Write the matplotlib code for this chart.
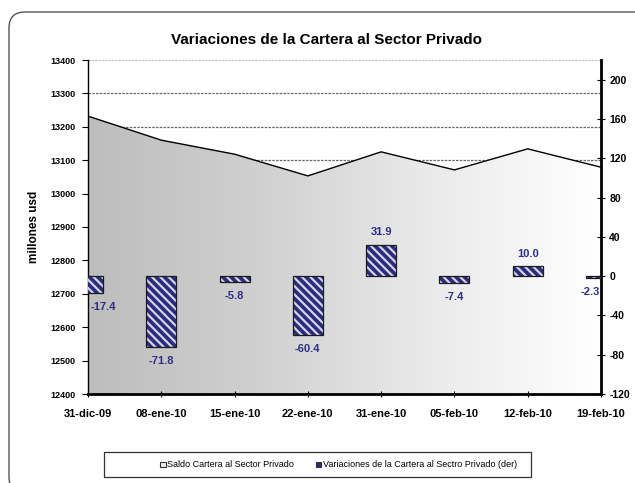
import matplotlib
matplotlib.use("Agg")
import matplotlib.pyplot as plt
import numpy as np
from matplotlib.patches import Polygon, Rectangle, FancyBboxPatch
from matplotlib.colors import LinearSegmentedColormap

# ---- data ----
fechas = ["31-dic-09", "08-ene-10", "15-ene-10", "22-ene-10",
          "31-ene-10", "05-feb-10", "12-feb-10", "19-feb-10"]
saldo = [13232, 13160, 13118, 13053, 13125, 13071, 13134, 13079]
variaciones = [-17.4, -71.8, -5.8, -60.4, 31.9, -7.4, 10.0, -2.3]
left_ticks = [12400, 12500, 12600, 12700, 12800, 12900, 13000, 13100, 13200, 13300, 13400]
right_ticks = [-120, -80, -40, 0, 40, 80, 120, 160, 200]

titulo = "Variaciones de la Cartera al Sector Privado"
ylabel = "millones usd"
leg1 = "Saldo Cartera al Sector Privado"
leg2 = "Variaciones de la Cartera al Sectro Privado (der)"

plt.rcParams['font.family'] = ['Liberation Sans', 'DejaVu Sans']
plt.rcParams['hatch.linewidth'] = 1.6

W, H = 635, 483
fig = plt.figure(figsize=(W / 100, H / 100), dpi=100)
fig.patch.set_facecolor('white')

# outer rounded frame (display px coords)
frame = FancyBboxPatch((9, -10), 645, H - 12 + 10, boxstyle="round,pad=0,rounding_size=16",
                       transform=None, facecolor='none', edgecolor='#555555', linewidth=1.0)
fig.patches.append(frame)

L, R, B, T = 88, 601, 394, 60
ax = fig.add_axes([L / W, (H - B) / H, (R - L) / W, (B - T) / H])
x = np.arange(len(fechas))
ax.set_xlim(0, len(fechas) - 1)
ax.set_ylim(left_ticks[0], left_ticks[-1])

# gridlines (behind area)
for yv in left_ticks[1:-1]:
    ax.axhline(yv, color='#666666', lw=0.9, ls=(0, (2, 1)), zorder=0.5)
ax.axhline(left_ticks[-1], color='#bbbbbb', lw=0.8, ls=(0, (2, 1)), zorder=0.6)

# gradient area
verts = [(x[0], left_ticks[0])] + list(zip(x, saldo)) + [(x[-1], left_ticks[0])]
poly = Polygon(verts, closed=True, facecolor='none', edgecolor='none')
ax.add_patch(poly)
cmap = LinearSegmentedColormap.from_list('g', ['#bdbdbd', '#d0d0d0', '#eaeaea', '#ffffff'])
grad = np.linspace(0, 1, 256).reshape(1, -1)
im = ax.imshow(grad, cmap=cmap, aspect='auto',
               extent=[x[0], x[-1], left_ticks[0], left_ticks[-1]], zorder=1)
im.set_clip_path(poly)
ax.plot(x, saldo, color='black', lw=1.0, zorder=2)

ax.set_yticks(left_ticks)
ax.set_yticklabels([str(v) for v in left_ticks], fontsize=6.5, fontweight='bold')
ax.set_xticks(x)
ax.set_xticklabels(fechas, fontsize=8, fontweight='bold')
ax.tick_params(axis='x', direction='inout', length=5, width=0.8, pad=8)
ax.tick_params(axis='y', direction='out', length=4, width=0.8, pad=5)
ax.spines['top'].set_visible(False)
ax.spines['right'].set_visible(False)
ax.spines['left'].set_linewidth(1.0)
ax.spines['bottom'].set_linewidth(2.0)
ax.set_ylabel(ylabel, fontsize=8.5, fontweight='bold')
ax.yaxis.set_label_coords(-0.094, 0.5)

# bars on secondary axis
ax2 = ax.twinx()
ax2.set_ylim(-120, 220)
ax2.set_xlim(0, len(fechas) - 1)
navy = '#2b2b80'
bw = 0.41
ax2.bar(x, variaciones, width=bw, color=navy, edgecolor='#d4d4e6', linewidth=0,
        hatch='\\' * 4, zorder=3)
ax2.bar(x, variaciones, width=bw, facecolor='none', edgecolor='#1a1a1a', linewidth=0.9, zorder=4)

xshift = [11, 0, 0, 0, 0, 0, 0, -8]
for i, v in enumerate(variaciones):
    dy = 9 if v >= 0 else -10
    ax2.annotate(f"{v:.1f}", (x[i], v), xytext=(xshift[i], dy), textcoords='offset points',
                 ha='center', va='center', fontsize=8, fontweight='bold', color='#2e2e88',
                 zorder=5, annotation_clip=False)

ax2.set_yticks(right_ticks)
ax2.set_yticklabels([str(v) for v in right_ticks], fontsize=7.5, fontweight='bold')
ax2.tick_params(axis='y', direction='inout', length=6, width=0.8, pad=3)
ax2.spines['right'].set_linewidth(2.0)
ax2.spines['top'].set_visible(False)
ax2.spines['left'].set_visible(False)
ax2.spines['bottom'].set_visible(False)

# title
fig.text(327 / W, 1 - 40 / H, titulo, ha='center', va='center', fontsize=11, fontweight='bold')

# legend (manual)
lx0, lx1, ly0, ly1 = 104, 531, 452, 477
fig.patches.append(Rectangle((lx0 / W, 1 - ly1 / H), (lx1 - lx0) / W, (ly1 - ly0) / H,
                             transform=fig.transFigure, facecolor='white',
                             edgecolor='#333333', linewidth=0.9))
ym = 1 - 464.5 / H
s = 5.5
fig.patches.append(Rectangle((160 / W, ym - s / 2 / H), s / W, s / H, transform=fig.transFigure,
                             facecolor='#eeeeee', edgecolor='#333333', linewidth=0.8))
fig.text(167 / W, ym, leg1, ha='left', va='center', fontsize=6.5)
fig.patches.append(Rectangle((316 / W, ym - s / 2 / H), s / W, s / H, transform=fig.transFigure,
                             facecolor=navy, edgecolor='#333333', linewidth=0.8))
fig.text(323 / W, ym, leg2, ha='left', va='center', fontsize=6.5)

fig.savefig('out.png', dpi=100)
